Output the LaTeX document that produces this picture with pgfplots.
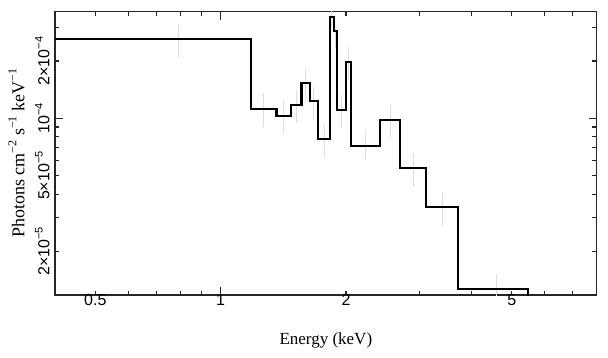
\documentclass[border=0pt]{standalone}
\usepackage{fontspec}
\setmainfont{Liberation Serif}
\newfontfamily\tickfont{Liberation Sans}
\usepackage{pgfplots}
\pgfplotsset{compat=1.18}
\newcommand{\tsup}[1]{\raisebox{0.42em}{\fontsize{11}{11}\selectfont #1}}
\newcommand{\lsup}[1]{\raisebox{0.45em}{\fontsize{12}{12}\selectfont #1}}
\begin{document}
\begin{tikzpicture}
\useasboundingbox (-55pt,-62pt) rectangle (553pt,295pt);
\begin{axis}[
  at={(0pt,0pt)}, anchor=south west,
  scale only axis, width=541.7pt, height=283.3pt,
  xmode=log, ymode=log,
  xmin=0.4, xmax=8, ymin=1.18e-5, ymax=3.63e-4,
  axis line style={black!85, line width=1.1pt},
  xtick={0.5,1,2,5}, xticklabels={0.5,1,2,5},
  minor xtick={0.6,0.7,0.8,0.9,3,4,6,7},
  ytick={2e-5,5e-5,1e-4,2e-4},
  yticklabels={2×10\tsup{−5},5×10\tsup{−5},10\tsup{−4},2×10\tsup{−4}},
  minor ytick={3e-5,4e-5,6e-5,7e-5,8e-5,9e-5,3e-4},
  extra x ticks={1}, extra x tick labels={},
  extra x tick style={major tick length=8pt},
  extra y ticks={1e-4}, extra y tick labels={},
  extra y tick style={major tick length=8pt},
  major tick length=4.5pt, minor tick length=4.5pt,
  every tick/.style={black!85, line width=1.1pt},
  tick label style={font=\tickfont\fontsize{16}{16}\selectfont},
  xticklabel style={yshift=4pt},
  yticklabel style={rotate=90, anchor=south, yshift=2pt},
  xlabel={Energy (keV)},
  ylabel={Photons cm\lsup{−2} s\lsup{−1} keV\lsup{−1}},
  every axis x label/.style={at={(axis description cs:0.5,-0.16)}, anchor=center, font=\fontsize{17}{17}\selectfont},
  every axis y label/.style={at={(axis description cs:-0.071,0.5)}, anchor=center, rotate=90, font=\fontsize{18}{18}\selectfont},
  unbounded coords=jump,
  clip=true,
]
% data error bars (light grey)
\addplot[gray!25, line width=1pt] coordinates {
 (0.790,2.09e-4) (0.790,3.13e-4) (0.790,nan)
 (1.270,8.97e-5) (1.270,1.353e-4) (1.270,nan)
 (1.419,8.27e-5) (1.419,1.248e-4) (1.419,nan)
 (1.519,9.41e-5) (1.519,1.408e-4) (1.519,nan)
 (1.598,1.278e-4) (1.598,1.808e-4) (1.598,nan)
 (1.672,9.80e-5) (1.672,1.455e-4) (1.672,nan)
 (1.777,6.19e-5) (1.777,9.22e-5) (1.777,nan)
 (1.850,3.0e-4) (1.850,3.9e-4) (1.850,nan)
 (1.889,2.34e-4) (1.889,2.909e-4) (1.889,nan)
 (1.952,8.86e-5) (1.952,1.326e-4) (1.952,nan)
 (2.026,1.589e-4) (2.026,2.377e-4) (2.026,nan)
 (2.233,6.04e-5) (2.233,8.68e-5) (2.233,nan)
 (2.556,7.85e-5) (2.556,1.175e-4) (2.556,nan)
 (2.907,4.37e-5) (2.907,6.60e-5) (2.907,nan)
 (3.406,2.73e-5) (3.406,4.12e-5) (3.406,nan)
 (4.592,1.0e-5) (4.592,1.52e-5)
};
% model histogram
\addplot[const plot, black, line width=2.2pt, line join=miter] coordinates {
 (0.4,2.600e-4)
 (1.180,1.119e-4)
 (1.361,1.028e-4)
 (1.478,1.174e-4)
 (1.563,1.527e-4)
 (1.636,1.228e-4)
 (1.713,7.757e-5)
 (1.834,3.417e-4)
 (1.868,2.885e-4)
 (1.902,1.105e-4)
 (2.003,1.983e-4)
 (2.052,7.18e-5)
 (2.409,9.80e-5)
 (2.701,5.46e-5)
 (3.106,3.41e-5)
 (3.722,1.264e-5)
 (5.468,1.0e-5)
};
\end{axis}
\end{tikzpicture}
\end{document}
